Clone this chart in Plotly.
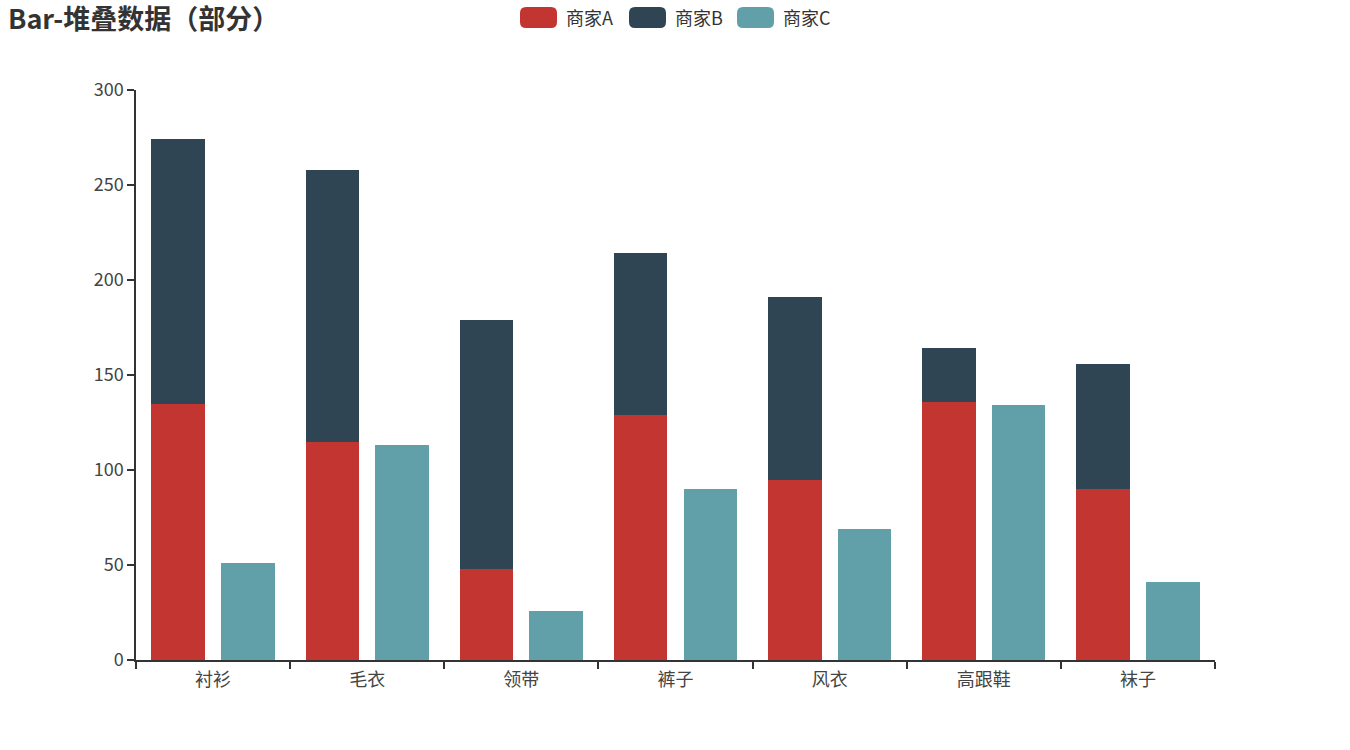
import plotly.graph_objects as go

categories = ["衬衫", "毛衣", "领带", "裤子", "风衣", "高跟鞋", "袜子"]
series_names = ["商家A", "商家B", "商家C"]
values_a = [135, 115, 48, 129, 95, 136, 90]
values_b = [139, 143, 131, 85, 96, 28, 66]
values_c = [51, 113, 26, 90, 69, 134, 41]
y_ticks = [0, 50, 100, 150, 200, 250, 300]

colors = ["#c23531", "#2f4554", "#61a0a8"]
FONT = "Noto Sans CJK SC, Microsoft YaHei, sans-serif"

W, H = 1350, 750
L, R, T, B = 136, 135, 90, 90
pw, ph = W - L - R, H - T - B

bar_w = 0.8 / 2.3
off_ab = -0.4
off_c = -0.4 + 1.3 * bar_w

fig = go.Figure()
fig.add_trace(go.Bar(x=categories, y=values_a, name=series_names[0],
                     marker=dict(color=colors[0], line=dict(width=0)),
                     width=bar_w, offset=off_ab))
fig.add_trace(go.Bar(x=categories, y=values_b, base=values_a, name=series_names[1],
                     marker=dict(color=colors[1], line=dict(width=0)),
                     width=bar_w, offset=off_ab))
fig.add_trace(go.Bar(x=categories, y=values_c, name=series_names[2],
                     marker=dict(color=colors[2], line=dict(width=0)),
                     width=bar_w, offset=off_c))


def px_to_paper(x, y):
    return (x - L) / pw, (H - B - y) / ph


shapes = []
annotations = []
legend_x = [520, 629, 737]
for i, name in enumerate(series_names):
    x0 = legend_x[i]
    x1 = x0 + 37
    y0, y1 = 7, 28
    px0, py1 = px_to_paper(x0, y0)
    px1, py0 = px_to_paper(x1, y1)
    rx = 6 / pw
    ry = 6 / ph
    path = (f"M{px0+rx},{py0} L{px1-rx},{py0} Q{px1},{py0} {px1},{py0+ry} "
            f"L{px1},{py1-ry} Q{px1},{py1} {px1-rx},{py1} L{px0+rx},{py1} "
            f"Q{px0},{py1} {px0},{py1-ry} L{px0},{py0+ry} Q{px0},{py0} {px0+rx},{py0} Z")
    shapes.append(dict(type="path", xref="paper", yref="paper", path=path,
                       fillcolor=colors[i], line=dict(width=0)))
    tx, ty = px_to_paper(x1 + 7, 17.5)
    annotations.append(dict(x=tx, y=ty, xref="paper", yref="paper", text=name,
                            showarrow=False, xanchor="left", yanchor="middle",
                            font=dict(family=FONT, size=18, color="#333")))

fig.update_layout(
    width=W, height=H,
    margin=dict(l=L, r=R, t=T, b=B, pad=0),
    barmode="overlay",
    showlegend=False,
    plot_bgcolor="white", paper_bgcolor="white",
    font=dict(family=FONT, size=18, color="#333"),
    title=dict(text="<b>Bar-堆叠数据（部分）</b>", x=8 / W, xanchor="left",
               y=1 - 20 / H, yanchor="middle",
               font=dict(family=FONT, size=27, color="#333")),
    xaxis=dict(showline=True, linecolor="#333", linewidth=1.5,
               ticks="outside", tickson="boundaries", ticklen=7, tickcolor="#333",
               tickwidth=1.5, showgrid=False, zeroline=False, ticklabelstandoff=3,
               tickfont=dict(family=FONT, size=18, color="#444")),
    yaxis=dict(range=[0, 300], tickvals=y_ticks, showline=True, linecolor="#333",
               linewidth=1.5, ticks="outside", ticklen=7, tickcolor="#333",
               tickwidth=1.5, showgrid=False, zeroline=False,
               tickfont=dict(family=FONT, size=18, color="#444")),
    shapes=shapes,
    annotations=annotations,
    bargap=0,
)

fig.write_html("out.html")
